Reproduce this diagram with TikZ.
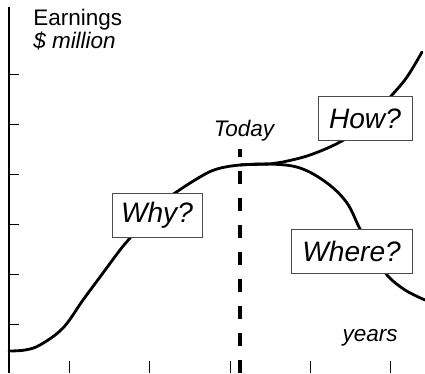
\documentclass[tikz,border=0pt]{standalone}
\usepackage{fontspec}
\setmainfont{Liberation Sans}
\tikzset{
  qbox/.style={draw=black!70, line width=0.7pt, fill=white, inner sep=0pt,
    minimum height=1.1cm, font=\fontsize{20}{24}\selectfont\itshape},
  lbl/.style={font=\fontsize{16}{19}\selectfont\itshape, anchor=base, inner sep=0pt},
  earn/.style={line width=2pt, line cap=round, line join=round}
}
\begin{document}
\begin{tikzpicture}
    \useasboundingbox (0,0) rectangle (10.625,9.325);
    % axes and ticks
    \draw[line width=1.4pt] (0.225,0) -- (0.225,9.15);
    \foreach \y in {1.225,2.475,3.725,4.975,6.225,7.475}
        \draw[line width=0.6pt] (0.225,\y) -- (0.475,\y);
    \foreach \x in {1.725,3.725,5.75,7.75,9.75}
        \draw[line width=0.6pt] (\x,0) -- (\x,0.3);
    \draw[line width=2.2pt, dash pattern=on 9.3pt off 9.9pt] (6.0,0) -- (6.0,5.6);
    % earnings curve
    \draw[earn] plot[smooth, tension=0.6] coordinates {(0.225,0.55) (0.625,0.575)
        (1.0,0.7) (1.575,1.125) (2.075,1.825) (2.5,2.4) (3.0,3.075) (3.25,3.375)
        (3.875,4.125) (4.375,4.5) (5.0,4.9) (5.425,5.1) (6.0,5.2) (6.75,5.225)
        (7.075,5.275) (7.75,5.45) (8.5,5.775) (9.125,6.2) (9.8,6.95) (10.175,7.4)
        (10.55,8.025)};
    \draw[earn] plot[smooth, tension=0.6] coordinates {(6.0,5.2) (6.75,5.225)
        (7.5,5.125) (8.175,4.75) (8.675,4.25) (9.0,3.6) (9.375,2.95) (9.675,2.45)
        (10.125,2.075) (10.625,1.825)};
    % boxes
    \node[qbox, minimum width=2.25cm] (why) at (3.925,3.94) {Why?};
    \node[qbox, minimum width=2.35cm] (how) at (9.125,6.36) {How?};
    \node[qbox, minimum width=3.025cm] (where) at (8.79,3.04) {Where?};
    % labels
    \node[lbl, anchor=base west, font=\fontsize{16}{19}\selectfont] (earnings) at (0.825,8.68) {Earnings};
    \node[lbl, anchor=base west] (unit) at (0.825,8.1) {\$ million};
    \node[lbl] (today) at (6.1,5.9) {Today};
    \node[lbl] (years) at (9.25,0.775) {years};
\end{tikzpicture}
\end{document}
